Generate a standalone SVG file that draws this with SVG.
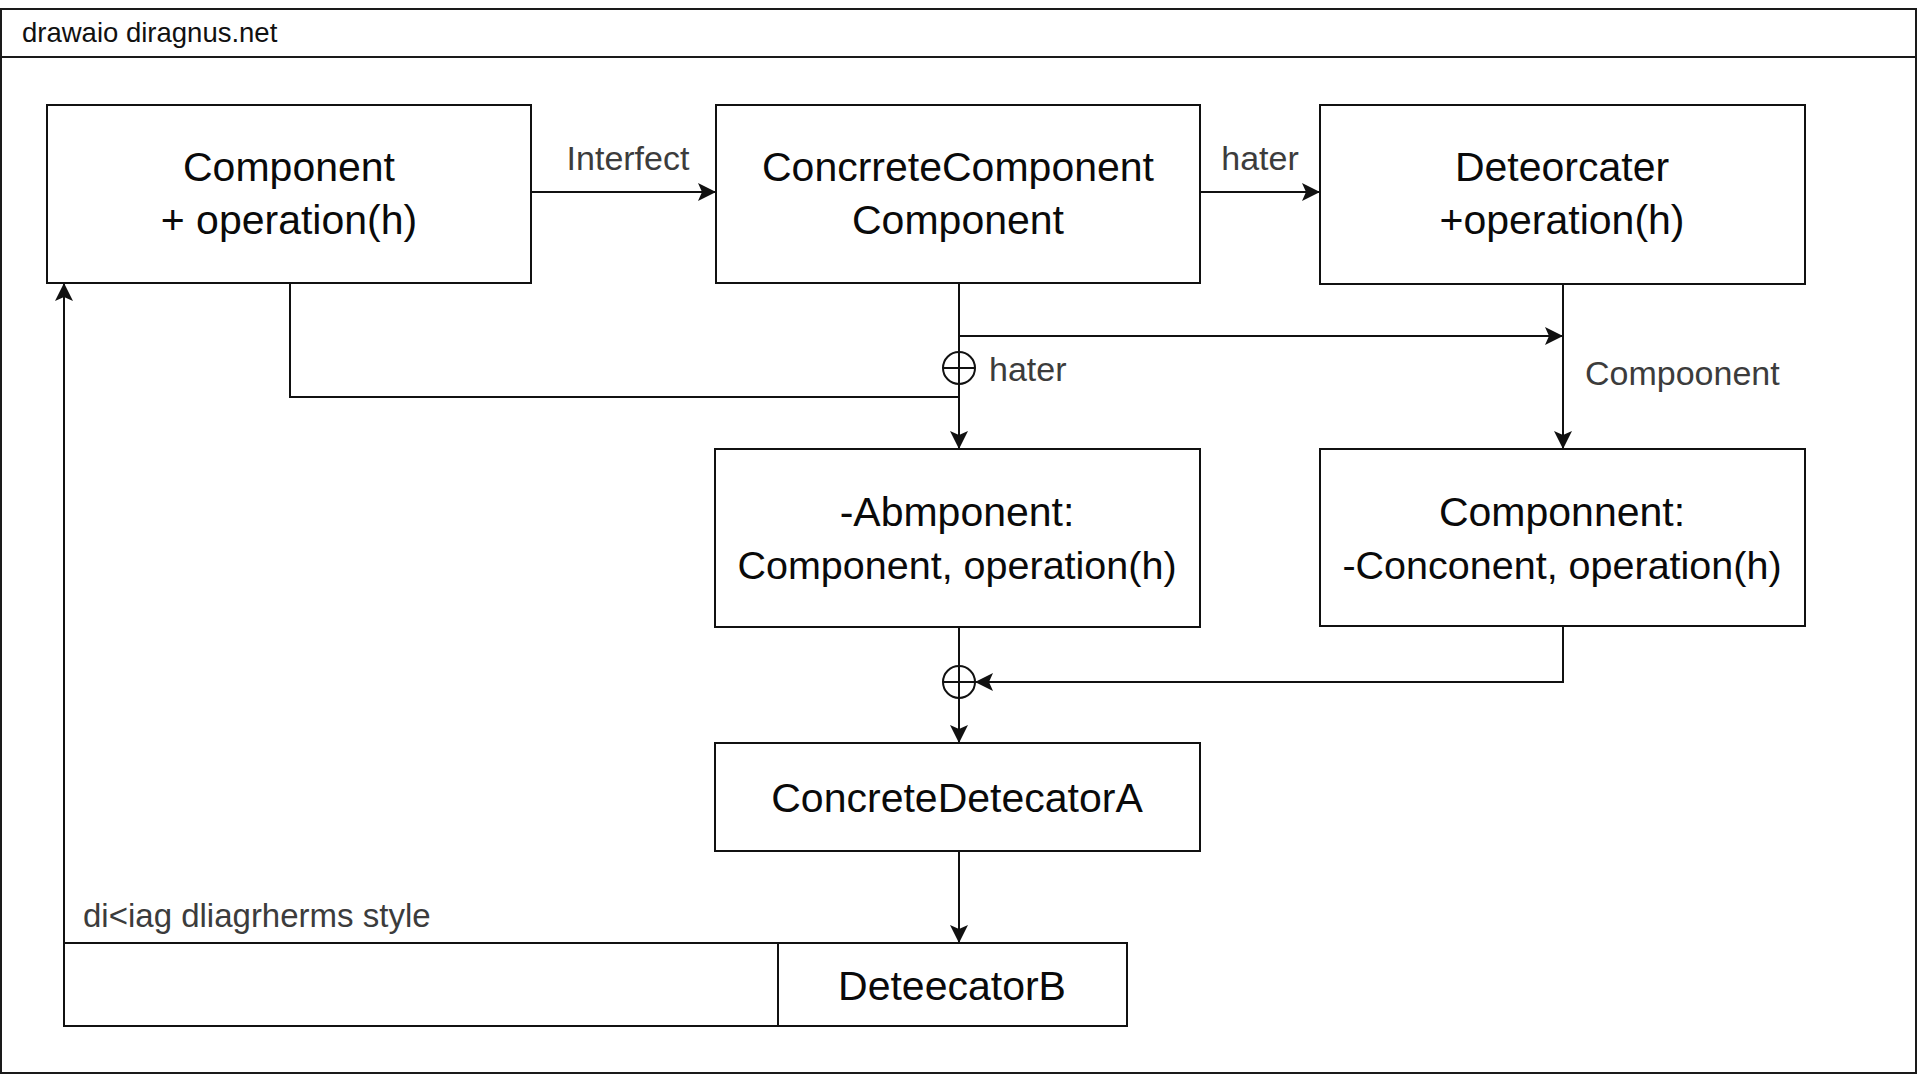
<svg xmlns="http://www.w3.org/2000/svg" width="1920" height="1080" viewBox="0 0 1920 1080">
<style>
.frame{fill:#fff;stroke:#1a1a1a;stroke-width:2}
.box{fill:#fff;stroke:#111;stroke-width:2}
.t{font-family:"Liberation Sans",Arial,sans-serif;font-size:41px;fill:#0a0a0a;text-anchor:middle}
.t2{font-size:39.5px}
.lbl{font-family:"Liberation Sans",Arial,sans-serif;font-size:34px;fill:#3c3c3c}
.hdr{font-family:"Liberation Sans",Arial,sans-serif;font-size:27.5px;fill:#111}
.c{fill:none;stroke:#111;stroke-width:2}
.ca{fill:none;stroke:#111;stroke-width:2;marker-end:url(#arr)}
.j{fill:#fff;stroke:#111;stroke-width:2}
</style>
<defs>
<marker id="arr" markerUnits="userSpaceOnUse" markerWidth="18" markerHeight="18" refX="18" refY="9" orient="auto" viewBox="0 0 18 18">
<path d="M0,0 L18,9 L0,18 L4,9 z" fill="#111"/>
</marker>
</defs>
<rect width="1920" height="1080" fill="#fff"/>
<g id="frame">
<rect class="frame" x="1" y="9" width="1915" height="1064"/>
<line x1="1" y1="57" x2="1916" y2="57" stroke="#1a1a1a" stroke-width="2"/>
<text class="hdr" x="22" y="42">drawaio diragnus.net</text>
</g>
<g id="connectors">
<path class="ca" d="M531,192 H716"/>
<path class="ca" d="M1200,192 H1320"/>
<path class="c" d="M290,283 V397 H959"/>
<path class="ca" d="M959,283 V449"/>
<path class="ca" d="M959,336 H1563"/>
<path class="ca" d="M1563,284 V449"/>
<path class="ca" d="M1563,627 V682 H975"/>
<path class="ca" d="M959,627 V743"/>
<path class="ca" d="M959,851 V943"/>
<path class="ca" d="M64,943 V283"/>
<g id="junction1">
<circle class="j" cx="959" cy="368" r="16"/>
<path class="c" d="M943,368 H975 M959,352 V384"/>
</g>
<g id="junction2">
<circle class="j" cx="959" cy="682" r="16"/>
<path class="c" d="M943,682 H975 M959,666 V698"/>
</g>
<text class="lbl" x="628" y="170" text-anchor="middle">Interfect</text>
<text class="lbl" x="1260" y="170" text-anchor="middle">hater</text>
<text class="lbl" x="989" y="381">hater</text>
<text class="lbl" x="1585" y="385">Compoonent</text>
</g>
<g id="component">
<rect class="box" x="47" y="105" width="484" height="178"/>
<text class="t" x="289" y="181">Component</text>
<text class="t" x="289" y="234">+ operation(h)</text>
</g>
<g id="concrete-component">
<rect class="box" x="716" y="105" width="484" height="178"/>
<text class="t" x="958" y="181">ConcrreteComponent</text>
<text class="t" x="958" y="234">Component</text>
</g>
<g id="deteorcater">
<rect class="box" x="1320" y="105" width="485" height="179"/>
<text class="t" x="1562" y="181">Deteorcater</text>
<text class="t" x="1562" y="234">+operation(h)</text>
</g>
<g id="abmponent">
<rect class="box" x="715" y="449" width="485" height="178"/>
<text class="t" x="957" y="526">-Abmponent:</text>
<text class="t t2" x="957" y="579">Component, operation(h)</text>
</g>
<g id="componnent">
<rect class="box" x="1320" y="449" width="485" height="177"/>
<text class="t" x="1562" y="526">Componnent:</text>
<text class="t t2" x="1562" y="579">-Conconent, operation(h)</text>
</g>
<g id="concrete-detecator-a">
<rect class="box" x="715" y="743" width="485" height="108"/>
<text class="t" x="957" y="812">ConcreteDetecatorA</text>
</g>
<g id="style-lane">
<rect class="box" x="64" y="943" width="1063" height="83"/>
<text class="lbl" x="83" y="927" style="font-size:33px">di&lt;iag dliagrherms style</text>
</g>
<g id="detecator-b">
<rect class="box" x="778" y="943" width="349" height="83"/>
<text class="t" x="952" y="1000">DeteecatorB</text>
</g>
</svg>
